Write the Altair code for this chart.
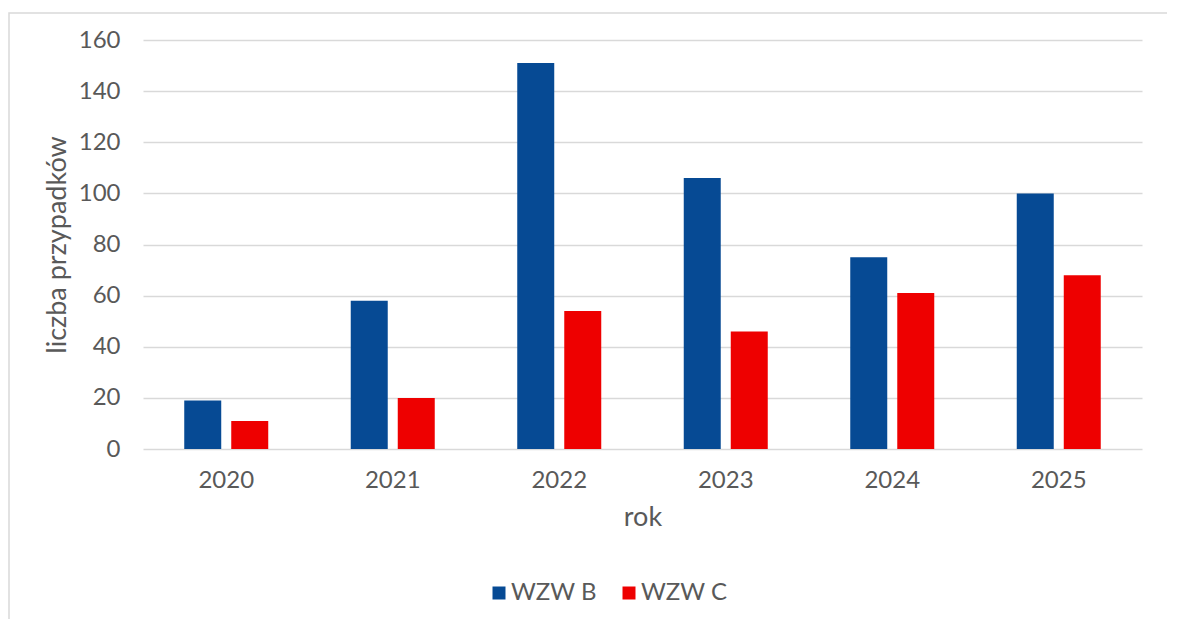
import altair as alt
import pandas as pd

years = ["2020", "2021", "2022", "2023", "2024", "2025"]
wzw_b = [19, 58, 151, 106, 75, 100]
wzw_c = [11, 20, 54, 46, 61, 68]
series = ["WZW B", "WZW C"]
colors = ["#064A94", "#EE0000"]
y_ticks = [0, 20, 40, 60, 80, 100, 120, 140, 160]

rows = []
for i, yr in enumerate(years):
    rows.append({"rok": yr, "seria": series[0], "wartosc": wzw_b[i]})
    rows.append({"rok": yr, "seria": series[1], "wartosc": wzw_c[i]})
df = pd.DataFrame(rows)

FONT = "Lato"
TXT = "#595959"
LBL = 24
TTL = 27

bars = alt.Chart(df).mark_bar().encode(
    x=alt.X(
        "rok:N",
        sort=years,
        scale=alt.Scale(paddingInner=0.4955, paddingOuter=0.2477),
        axis=alt.Axis(
            title="rok", labelAngle=0, ticks=False, tickSize=0, domain=False,
            labelFontSize=LBL, labelColor=TXT, labelFont=FONT, labelPadding=19,
            titleFontSize=TTL, titleColor=TXT, titleFont=FONT, titleFontWeight="normal",
            titlePadding=12,
        ),
    ),
    xOffset=alt.XOffset("seria:N", sort=series,
                        scale=alt.Scale(paddingInner=0.213, paddingOuter=0)),
    y=alt.Y(
        "wartosc:Q",
        scale=alt.Scale(domain=[0, 160], nice=False),
        axis=alt.Axis(
            title="liczba przypadków", values=y_ticks, ticks=False, tickSize=0, domain=False,
            gridColor="#D9D9D9", gridWidth=1.5,
            labelFontSize=LBL, labelColor=TXT, labelFont=FONT, labelPadding=23,
            titleFontSize=TTL, titleColor=TXT, titleFont=FONT, titleFontWeight="normal",
            titlePadding=7,
        ),
    ),
    color=alt.Color(
        "seria:N",
        scale=alt.Scale(domain=series, range=colors),
        legend=alt.Legend(
            title=None, orient="none", direction="horizontal",
            legendX=344, legendY=541,
            symbolType="square", symbolSize=169, symbolStrokeWidth=0,
            labelFontSize=LBL, labelColor=TXT, labelFont=FONT,
            labelOffset=0, columnPadding=20,
        ),
    ),
)

frame = alt.Chart(pd.DataFrame({"a": [0]})).mark_rect(
    fill="transparent", stroke="#D9D9D9", strokeWidth=1.5, clip=False
).encode(
    x=alt.value(-134), x2=alt.value(1080), y=alt.value(-27), y2=alt.value(640)
)

chart = alt.layer(frame, bars).properties(
    width=999, height=409,
    padding={"left": 135, "top": 32, "right": 25, "bottom": 170},
    autosize=alt.AutoSizeParams(type="none"),
).configure_view(stroke=None).configure_axis(grid=True).configure_axisX(grid=False)

chart.save("out.html", embed_options={"renderer": "svg", "actions": False})
